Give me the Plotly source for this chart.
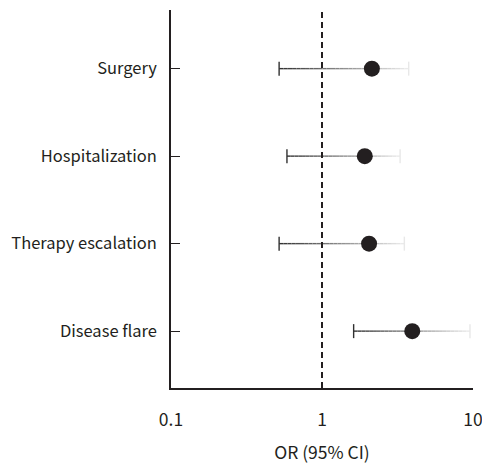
import plotly.graph_objects as go
import numpy as np

categories = ["Disease flare", "Therapy escalation", "Hospitalization", "Surgery"]
or_est = [3.96, 2.05, 1.92, 2.14]
ci_low = [1.62, 0.52, 0.586, 0.52]
ci_high = [9.55, 3.51, 3.29, 3.75]
x_ticks = [0.1, 1, 10]
x_tick_labels = ["0.1", "1", "10"]

FONT = "Noto Sans CJK KR"
TXT = "#231f20"

fig = go.Figure()

# gradient CI lines (dark on the left, fading to light on the right)
N = 30
c0 = np.array([0x30, 0x30, 0x30])
c1 = np.array([0xee, 0xee, 0xee])
for k in range(N):
    xs, ys = [], []
    for cat, lo, hi in zip(categories, ci_low, ci_high):
        a = np.log10(lo) + (np.log10(hi) - np.log10(lo)) * k / N
        b = np.log10(lo) + (np.log10(hi) - np.log10(lo)) * (k + 1) / N
        xs += [10 ** a, 10 ** b, None]
        ys += [cat, cat, None]
    t = (k + 0.5) / N
    c = (c0 + (c1 - c0) * t).astype(int)
    fig.add_trace(go.Scatter(x=xs, y=ys, mode="lines",
                             line=dict(color=f"rgb({c[0]},{c[1]},{c[2]})", width=1.4),
                             hoverinfo="skip", showlegend=False))

# caps
fig.add_trace(go.Scatter(x=ci_low, y=categories, mode="markers",
                         marker=dict(symbol="line-ns", size=10,
                                     line=dict(color="#303030", width=1.4)),
                         showlegend=False))
fig.add_trace(go.Scatter(x=ci_high, y=categories, mode="markers",
                         marker=dict(symbol="line-ns", size=10,
                                     line=dict(color="#e8e8e8", width=1.4)),
                         showlegend=False))
# point estimates
fig.add_trace(go.Scatter(x=or_est, y=categories, mode="markers",
                         marker=dict(size=16, color=TXT),
                         showlegend=False))

fig.add_shape(type="line", xref="x", yref="paper", x0=1, x1=1, y0=0, y1=1,
              line=dict(color=TXT, width=2, dash="6px,4px"))

fig.update_layout(
    width=482, height=464,
    margin=dict(l=171, r=9, t=10, b=76),
    plot_bgcolor="white", paper_bgcolor="white",
    font=dict(family=FONT, size=16.5, color=TXT),
    xaxis=dict(type="log", range=[-1, 1], tickvals=x_ticks, ticktext=x_tick_labels,
               showgrid=False, zeroline=False, showline=True, linecolor=TXT,
               linewidth=1.5, ticks="inside", ticklen=5, tickcolor=TXT,
               ticklabelstandoff=15, tickfont=dict(size=17.5),
               ticklabeloverflow="allow", automargin=False,
               title=dict(text="OR (95% CI)", standoff=20, font=dict(size=17.5))),
    yaxis=dict(type="category", categoryorder="array", categoryarray=categories,
               range=[-0.65, 3.67], showgrid=False, zeroline=False, showline=True,
               linecolor=TXT, linewidth=1.5, ticks="inside", ticklen=9,
               tickcolor=TXT, ticklabelstandoff=9, automargin=False),
)

fig.write_html("out.html", config={"displayModeBar": False},
               post_script="document.body.style.margin='0';document.body.style.overflow='hidden';")
